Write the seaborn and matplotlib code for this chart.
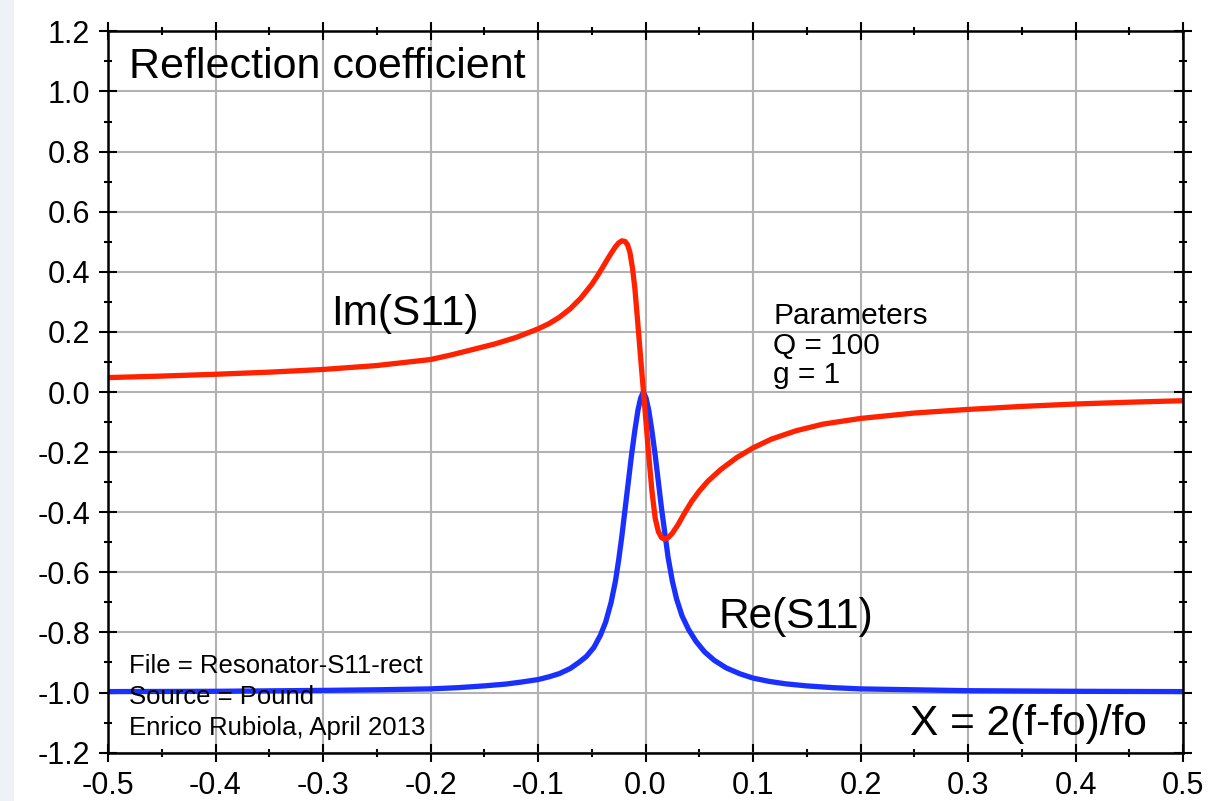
import matplotlib
matplotlib.use("Agg")
import matplotlib.pyplot as plt
import numpy as np
import pandas as pd
import seaborn as sns
from matplotlib.ticker import MultipleLocator
from matplotlib.patches import Rectangle

# ---------------- data ----------------
x_re = [-0.5, -0.4, -0.3, -0.25, -0.2, -0.175, -0.15, -0.13, -0.115, -0.1, -0.09,
        -0.08, -0.07, -0.062, -0.055, -0.048, -0.042, -0.037, -0.032, -0.028,
        -0.025, -0.022, -0.019, -0.016, -0.013, -0.010, -0.007, -0.0045, -0.002,
        0.0005, 0.003, 0.006, 0.009, 0.012, 0.015, 0.018, 0.021, 0.025, 0.029,
        0.034, 0.04, 0.047, 0.055, 0.064, 0.075, 0.088, 0.1, 0.115, 0.13, 0.15,
        0.175, 0.2, 0.25, 0.3, 0.4, 0.5]
re_s11 = [-0.997, -0.996, -0.993, -0.991, -0.988, -0.984, -0.978, -0.972, -0.965,
          -0.957, -0.948, -0.937, -0.92, -0.90, -0.88, -0.85, -0.81, -0.765, -0.70,
          -0.63, -0.56, -0.48, -0.39, -0.30, -0.21, -0.13, -0.06, -0.02, 0.0,
          -0.02, -0.06, -0.13, -0.21, -0.30, -0.39, -0.47, -0.55, -0.63, -0.69,
          -0.745, -0.79, -0.83, -0.865, -0.893, -0.918, -0.938, -0.952, -0.963,
          -0.971, -0.978, -0.984, -0.988, -0.991, -0.994, -0.996, -0.997]

x_im = [-0.5, -0.45, -0.4, -0.35, -0.3, -0.25, -0.2, -0.18, -0.16, -0.14, -0.12,
        -0.1, -0.09, -0.08, -0.07, -0.06, -0.05, -0.045, -0.04, -0.035, -0.031,
        -0.028, -0.025, -0.022, -0.019, -0.0167, -0.0145, -0.012, -0.0099,
        -0.0074, -0.0049, -0.0028, 0.0, 0.003, 0.006, 0.009, 0.012, 0.015, 0.018,
        0.021, 0.025, 0.03, 0.036, 0.043, 0.05, 0.058, 0.07, 0.085, 0.1, 0.117,
        0.14, 0.165, 0.2, 0.25, 0.3, 0.35, 0.4, 0.45, 0.5]
im_s11 = [0.048, 0.053, 0.059, 0.066, 0.075, 0.088, 0.108, 0.124, 0.142, 0.16,
          0.182, 0.21, 0.227, 0.249, 0.277, 0.313, 0.358, 0.385, 0.414, 0.444, 0.467,
          0.483, 0.496, 0.503, 0.501, 0.49, 0.465, 0.41, 0.345, 0.24, 0.13, 0.04,
          -0.08, -0.21, -0.33, -0.42, -0.465, -0.485, -0.49, -0.485, -0.47, -0.443,
          -0.405, -0.364, -0.33, -0.297, -0.258, -0.218, -0.186, -0.157, -0.129,
          -0.107, -0.088, -0.07, -0.058, -0.048, -0.040, -0.034, -0.029]

x_ticks = [-0.5, -0.4, -0.3, -0.2, -0.1, 0.0, 0.1, 0.2, 0.3, 0.4, 0.5]
x_tick_labels = ["-0.5", "-0.4", "-0.3", "-0.2", "-0.1", "0.0", "0.1", "0.2", "0.3", "0.4", "0.5"]
y_ticks = [-1.2, -1.0, -0.8, -0.6, -0.4, -0.2, 0.0, 0.2, 0.4, 0.6, 0.8, 1.0, 1.2]
y_tick_labels = ["-1.2", "-1.0", "-0.8", "-0.6", "-0.4", "-0.2", "0.0", "0.2", "0.4",
                 "0.6", "0.8", "1.0", "1.2"]

title_text = "Reflection coefficient"
im_label = "Im(S11)"
re_label = "Re(S11)"
x_label = "X = 2(f-fo)/fo"
param_lines = ["Parameters", "Q = 100", "g = 1"]
note_lines = ["File = Resonator-S11-rect", "Source = Pound", "Enrico Rubiola, April 2013"]

RED = "#ff2200"
BLUE = "#1a30ff"

# ---------------- style ----------------
sns.set_theme(style="ticks")
plt.rcParams["font.family"] = ["Liberation Sans", "DejaVu Sans"]
plt.rcParams["axes.unicode_minus"] = False

fig = plt.figure(figsize=(12.23, 8.01), dpi=100)
fig.patch.set_facecolor("white")
# pale strip at the very left edge of the screenshot
fig.patches.append(Rectangle((0, 0), 14 / 1223, 1, transform=fig.transFigure,
                             facecolor="#eef1f5", edgecolor="none", zorder=-1))

ax = fig.add_axes([108 / 1223, 1 - 752.6 / 801, (1183 - 108) / 1223, (752.6 - 31.4) / 801])
ax.set_facecolor("white")

df_re = pd.DataFrame({"x": x_re, "y": re_s11})
df_im = pd.DataFrame({"x": x_im, "y": im_s11})
sns.lineplot(data=df_re, x="x", y="y", ax=ax, color=BLUE, linewidth=3.8,
             sort=False, estimator=None, legend=False)
sns.lineplot(data=df_im, x="x", y="y", ax=ax, color=RED, linewidth=3.8,
             sort=False, estimator=None, legend=False)
for ln in ax.lines:
    ln.set_solid_joinstyle("round")
    ln.set_solid_capstyle("butt")

ax.set_xlim(-0.5, 0.5)
ax.set_ylim(-1.2, 1.2)
ax.set_xlabel("")
ax.set_ylabel("")

ax.set_xticks(x_ticks, labels=x_tick_labels)
ax.set_yticks(y_ticks, labels=y_tick_labels)
ax.xaxis.set_minor_locator(MultipleLocator(0.05))
ax.yaxis.set_minor_locator(MultipleLocator(0.1))

ax.grid(True, which="major", color="#b2b2b2", linewidth=1.5)
ax.set_axisbelow(True)

ax.tick_params(which="major", direction="inout", length=13, width=1.5, color="black",
               top=True, right=True, labeltop=False, labelright=False,
               labelsize=22, labelcolor="black")
ax.tick_params(axis="y", which="major", pad=6.5)
ax.tick_params(axis="x", which="major", pad=7)
ax.tick_params(which="minor", direction="inout", length=5.8, width=1.5, color="black",
               top=True, right=True)
for s in ax.spines.values():
    s.set_visible(True)
    s.set_linewidth(1.8)
    s.set_color("black")

# ---------------- texts ----------------
ax.text(-0.4805, 1.045, title_text, fontsize=31, ha="left", va="baseline", color="black")
ax.text(-0.292, 0.223, im_label, fontsize=30.5, ha="left", va="baseline", color="black")
ax.text(0.068, -0.786, re_label, fontsize=30.5, ha="left", va="baseline", color="black")
ax.text(0.246, -1.141, x_label, fontsize=30.5, ha="left", va="baseline", color="black")

# multi-line blocks: va="baseline" anchors the last line's baseline
ax.text(0.1187, 0.029, "\n".join(param_lines), fontsize=21.5, ha="left",
        va="baseline", color="black", linespacing=1.08)
ax.text(-0.4805, -1.141, "\n".join(note_lines), fontsize=18.5, ha="left",
        va="baseline", color="black", linespacing=1.36)

fig.savefig("out.png", dpi=100, facecolor="white")
